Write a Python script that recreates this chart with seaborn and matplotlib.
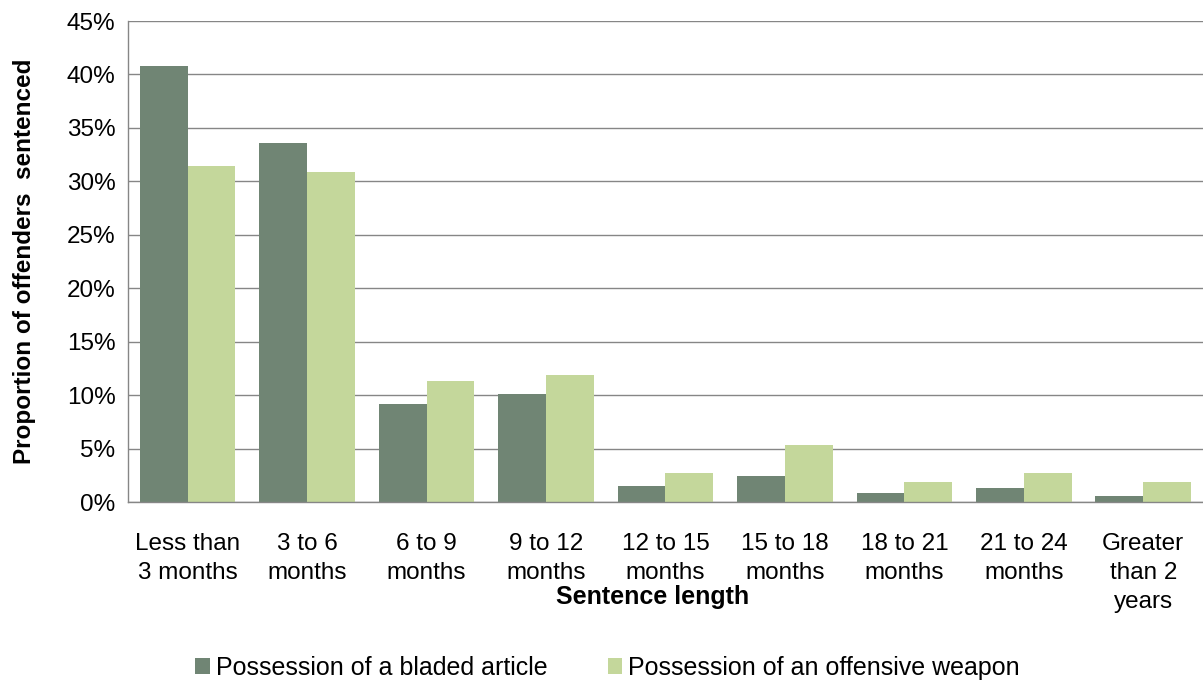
"""Sentence length distribution: bladed article vs offensive weapon."""
import matplotlib

matplotlib.use("Agg")
import matplotlib.pyplot as plt
import numpy as np
import pandas as pd
import seaborn as sns
from matplotlib.ticker import FixedLocator, PercentFormatter

categories = [
    "Less than\n3 months", "3 to 6\nmonths", "6 to 9\nmonths", "9 to 12\nmonths",
    "12 to 15\nmonths", "15 to 18\nmonths", "18 to 21\nmonths", "21 to 24\nmonths",
    "Greater\nthan 2\nyears",
]
bladed = [40.8, 33.6, 9.2, 10.1, 1.5, 2.4, 0.8, 1.3, 0.6]
offensive = [31.4, 30.9, 11.3, 11.9, 2.7, 5.3, 1.9, 2.7, 1.9]
series = ["Possession of a bladed article", "Possession of an offensive weapon"]

df = pd.DataFrame({
    "cat": categories * 2,
    "val": bladed + offensive,
    "series": [series[0]] * len(categories) + [series[1]] * len(categories),
})

sns.set_style("white")
plt.rcParams["font.family"] = ["Liberation Sans", "DejaVu Sans"]
plt.rcParams["text.color"] = "black"
plt.rcParams["axes.labelcolor"] = "black"

fig = plt.figure(figsize=(12.03, 6.81), dpi=100)
ax = fig.add_axes([0.1064, 0.2628, 0.8936, 0.7063])

sns.barplot(
    data=df, x="cat", y="val", hue="series", order=categories,
    palette=["#708574", "#c4d79b"], width=0.8, saturation=1,
    edgecolor="none", ax=ax,
)

ax.set_ylim(0, 45)
ax.set_xlim(-0.5, len(categories) - 0.5)
ax.set_yticks(np.arange(0, 46, 5))
ax.yaxis.set_major_formatter(PercentFormatter(decimals=0))
ax.yaxis.grid(True, color="#868686", linewidth=1.0)
ax.set_axisbelow(True)

for side in ["top", "right"]:
    ax.spines[side].set_visible(False)
for side in ["left", "bottom"]:
    ax.spines[side].set_color("#868686")
    ax.spines[side].set_linewidth(1.0)

ax.tick_params(axis="y", length=6, color="#868686", width=1.0,
               labelsize=17.5, labelcolor="black", pad=3)
ax.tick_params(axis="x", which="major", length=0, labelsize=17.5,
               labelcolor="black", pad=22.5)
ax.xaxis.set_minor_locator(FixedLocator(np.arange(-0.5, len(categories), 1.0)))
ax.tick_params(axis="x", which="minor", length=6, color="#868686", width=1.0)
for lab in ax.get_xticklabels():
    lab.set_linespacing(1.4)

ax.set_xlabel("Sentence length", fontsize=18, fontweight="bold")
ax.xaxis.label.set_verticalalignment("center")
ax.xaxis.set_label_coords(0.488, -0.1975)
ax.set_ylabel("Proportion of offenders  sentenced", fontsize=17.5, fontweight="bold")
ax.yaxis.set_label_coords(-0.086, 0.5)

handles, labels = ax.get_legend_handles_labels()
ax.get_legend().remove()
fig.legend(
    handles, labels, loc="center", bbox_to_anchor=(0.505, 1 - 668 / 681), ncol=2,
    frameon=False, fontsize=18, handlelength=0.58, handleheight=0.58,
    handletextpad=0.25, columnspacing=2.4, borderpad=0,
)

fig.savefig("out.png", dpi=100)
plt.close(fig)
